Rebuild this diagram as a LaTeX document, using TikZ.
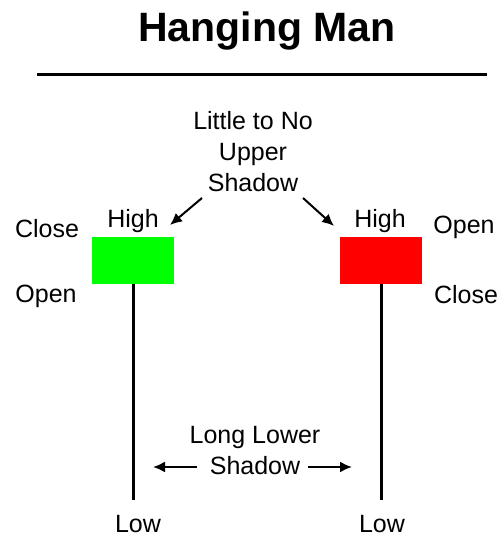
\documentclass[tikz,border=0pt]{standalone}
\usepackage{fontspec}
\setmainfont{Liberation Sans}
\usetikzlibrary{arrows.meta}
\tikzset{
  lbl/.style={inner sep=0pt,anchor=base,align=center,font=\fontsize{25}{31}\selectfont},
  candle/.style={inner sep=0pt,minimum width=82pt,minimum height=47pt},
  wick/.style={line width=3pt},
  pointer/.style={line width=2pt,-{Latex[length=12pt,width=11pt]}}
}
\begin{document}
\begin{tikzpicture}[x=1pt,y=-1pt]
        \useasboundingbox (0,0) rectangle (502,537);
        %% title
        \node[lbl,font=\fontsize{41}{49}\selectfont\bfseries] (title) at (267,42) {Hanging Man};
        \draw[line width=3pt] (37,75) -- (487,75);
        %% bullish candle
        \node[candle,fill=green] (gbox) at (133,260) {};
        \coordinate (gtail) at (133,500);
        \draw[wick] (gbox.south) -- (gtail);
        \node[lbl] (ghigh) at (133,227) {High};
        \node[lbl] (glow) at (138,532) {Low};
        \node[lbl] (gclose) at (47,237) {Close};
        \node[lbl] (gopen) at (46,302) {Open};
        %% bearish candle
        \node[candle,fill=red] (rbox) at (381,260) {};
        \coordinate (rtail) at (381,500);
        \draw[wick] (rbox.south) -- (rtail);
        \node[lbl] (rhigh) at (380,227) {High};
        \node[lbl] (rlow) at (382,532) {Low};
        \node[lbl] (ropen) at (464,233) {Open};
        \node[lbl] (rclose) at (466,303) {Close};
        %% upper shadow (base = last line)
        \node[lbl] (upper) at (253,192) {Little to No\\Upper\\Shadow};
        \coordinate (ul0) at (202,198);
        \coordinate (ul1) at (170,225);
        \coordinate (ur0) at (303,198);
        \coordinate (ur1) at (334,226);
        \draw[pointer] (ul0) -- (ul1);
        \draw[pointer] (ur0) -- (ur1);
        %% lower shadow
        \node[lbl] (lower) at (255,474) {Long Lower\\Shadow};
        \coordinate (ll0) at (197,467);
        \coordinate (ll1) at (153,467);
        \coordinate (lr0) at (308,467);
        \coordinate (lr1) at (352,467);
        \draw[pointer] (ll0) -- (ll1);
        \draw[pointer] (lr0) -- (lr1);
\end{tikzpicture}
\end{document}
